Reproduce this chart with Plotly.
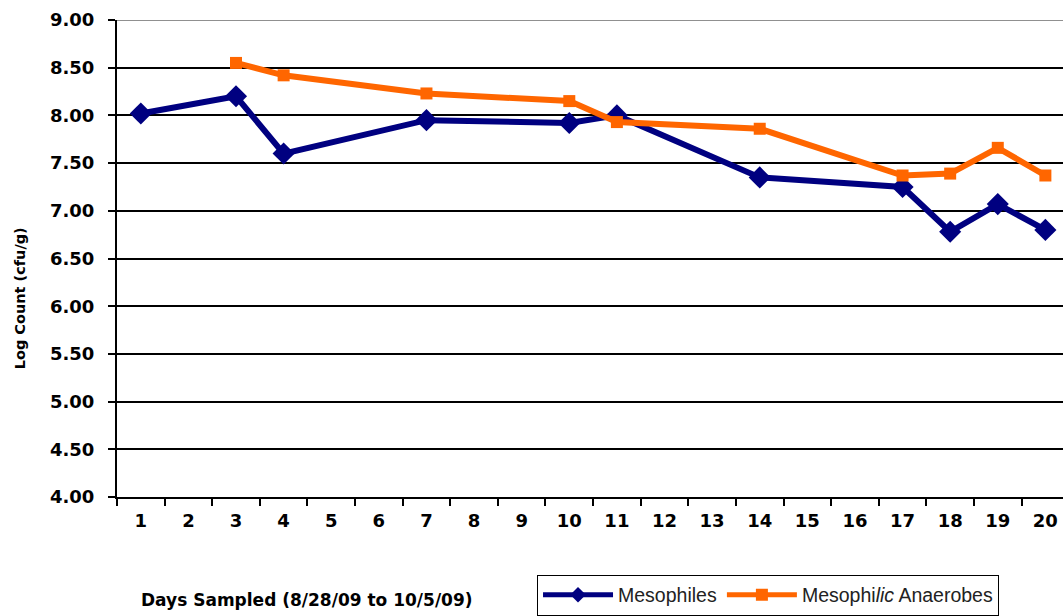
import plotly.graph_objects as go

# Sampling days shown on the category axis
days = [str(d) for d in range(1, 21)]

# Mesophiles: log count (cfu/g) on the days sampled
meso_days = ["1", "3", "4", "7", "10", "11", "14", "17", "18", "19", "20"]
meso_vals = [8.02, 8.20, 7.60, 7.95, 7.92, 8.00, 7.35, 7.25, 6.78, 7.07, 6.80]

# Mesophilic anaerobes: log count (cfu/g)
anae_days = ["3", "4", "7", "10", "11", "14", "17", "18", "19", "20"]
anae_vals = [8.55, 8.42, 8.23, 8.15, 7.93, 7.86, 7.37, 7.39, 7.66, 7.37]

y_ticks = [4.0 + 0.5 * i for i in range(11)]

NAVY = "#000080"
ORANGE = "#FF6600"
BOLD_FONT = "DejaVu Sans"

fig = go.Figure()
fig.add_trace(go.Scatter(
    x=meso_days, y=meso_vals, name="Mesophiles", mode="lines+markers",
    line=dict(color=NAVY, width=6),
    marker=dict(symbol="diamond", size=17, color=NAVY),
))
fig.add_trace(go.Scatter(
    x=anae_days, y=anae_vals, name="Mesophi<i>lic</i> Anaerobes", mode="lines+markers",
    line=dict(color=ORANGE, width=6),
    marker=dict(symbol="square", size=12, color=ORANGE),
))

# grey line along the top of the plot area
fig.add_shape(type="line", xref="paper", yref="y", x0=0, x1=1, y0=9, y1=9,
              line=dict(color="#909090", width=2), layer="above")

# axis titles
fig.add_annotation(
    text="<b>Days Sampled (8/28/09 to 10/5/09)</b>",
    xref="paper", yref="paper", x=0.023, y=-0.215, xanchor="left", yanchor="middle",
    showarrow=False, font=dict(family=BOLD_FONT, size=17, color="black"),
)
fig.add_annotation(
    text="<b>Log Count (cfu/g)</b>", textangle=-90,
    xref="paper", yref="paper", x=-0.1025, y=0.4167, xanchor="center", yanchor="middle",
    showarrow=False, font=dict(family=BOLD_FONT, size=14.5, color="black"),
)

fig.update_layout(
    width=1063, height=616,
    margin=dict(l=117, r=0, t=20, b=116),
    paper_bgcolor="white", plot_bgcolor="white",
    font=dict(family="Liberation Sans, Arial", color="black"),
    showlegend=True,
    legend=dict(
        orientation="h", x=0.444, y=-0.1625, xanchor="left", yanchor="top",
        bordercolor="black", borderwidth=1, bgcolor="white",
        font=dict(size=19.5, color="#222222"), itemwidth=70, itemsizing="constant",
    ),
    xaxis=dict(
        type="category", categoryorder="array", categoryarray=days,
        range=[-0.5, 19.37], tickson="boundaries", ticks="outside", ticklen=7,
        tickwidth=2, tickcolor="black", showgrid=False, ticklabelstandoff=6,
        showline=True, linecolor="black", linewidth=2,
        tickfont=dict(size=18, family=BOLD_FONT, weight="bold"),
    ),
    yaxis=dict(
        range=[4, 9], tickvals=y_ticks, tickformat=".2f",
        ticks="outside", ticklen=7, tickwidth=2, tickcolor="black",
        showgrid=True, gridcolor="black", gridwidth=2, ticklabelstandoff=10,
        showline=True, linecolor="black", linewidth=2, zeroline=False,
        tickfont=dict(size=18, family=BOLD_FONT, weight="bold"),
    ),
)

fig.write_html("out.html")
